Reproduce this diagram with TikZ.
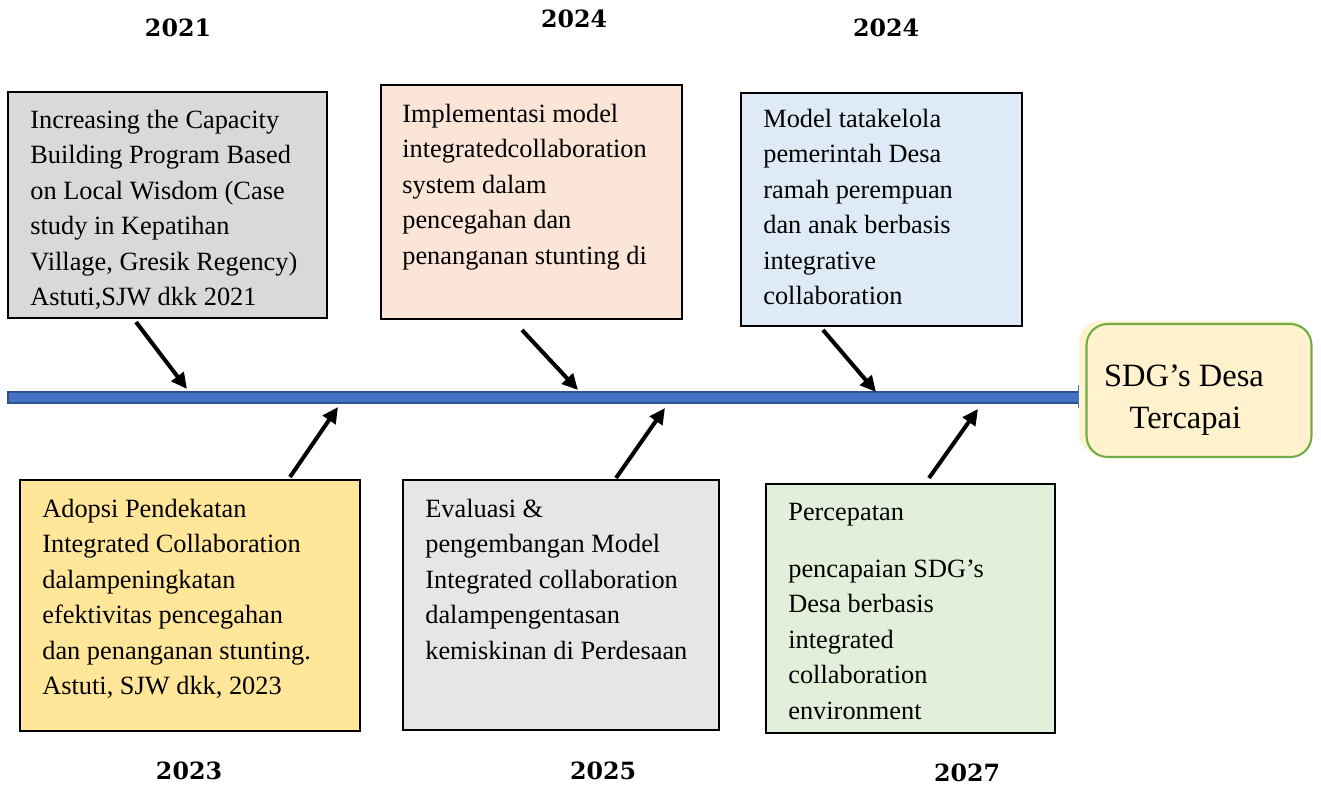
\documentclass[tikz,border=0pt]{standalone}
\usepackage{fontspec}
\setmainfont{Liberation Serif}
\newfontfamily\yearfont{DejaVu Serif}
\usetikzlibrary{arrows.meta}
\definecolor{cgray}{HTML}{D9D9D9}
\definecolor{cpeach}{HTML}{FBE5D6}
\definecolor{cblue}{HTML}{DEEBF7}
\definecolor{cyellow}{HTML}{FFE699}
\definecolor{clgray}{HTML}{E7E6E6}
\definecolor{cgreen}{HTML}{E2EFDA}
\definecolor{sdgfill}{HTML}{FFF2CC}
\definecolor{sdgline}{HTML}{70AD47}
\definecolor{barfill}{HTML}{4472C4}
\definecolor{barline}{HTML}{2F528F}
\begin{document}
\begin{tikzpicture}[x=0.02cm,y=-0.02cm,
  box/.style={draw=black,line width=1.2pt,inner sep=0pt},
  txt/.style={anchor=base west,align=left,inner sep=0pt,font=\fontsize{15}{20.2}\selectfont},
  yr/.style={font=\yearfont\bfseries\fontsize{13.5}{16}\selectfont,inner sep=0pt},
  conn/.style={line width=2.3pt,-{Triangle[length=9pt,width=8.5pt]}}]
\useasboundingbox (0,0) rectangle (1321,789);
% timeline
\path[fill=barfill,draw=barline,line width=0.8pt] (8,392) rectangle (1080,403);
\draw[barfill,line width=1pt] (1079,385) -- (1079,408);
% SDG box
\fill[sdgfill,rounded corners=12pt] (1079,321) rectangle (1309,454);
\node[draw=sdgline,fill=sdgfill,line width=1.2pt,rounded corners=12pt,
  minimum width=4.5cm,minimum height=2.66cm,inner sep=0pt] (sdg) at (1199,390.5) {};
\node[align=center,inner sep=0pt,font=\fontsize{18.5}{23.8}\selectfont,anchor=base] (sdgt) at (1184,428) {SDG’s Desa\\\hspace*{1.5pt}Tercapai};
% boxes
\node[box,fill=cgray,minimum width=6.38cm,minimum height=4.52cm] (b1) at (167.5,205) {};
\node[box,fill=cpeach,minimum width=6.02cm,minimum height=4.68cm] (b2) at (531.5,202) {};
\node[box,fill=cblue,minimum width=5.62cm,minimum height=4.66cm] (b3) at (881.5,209.5) {};
\node[box,fill=cyellow,minimum width=6.8cm,minimum height=5.02cm] (b4) at (190,605.5) {};
\node[box,fill=clgray,minimum width=6.32cm,minimum height=5.0cm] (b5) at (561,605) {};
\node[box,fill=cgreen,minimum width=5.78cm,minimum height=4.98cm] (b6) at (910.5,608.5) {};
% texts (anchored at the baseline of the last line)
\node[txt] (t1) at (30,305.5) {Increasing the Capacity\\Building Program Based\\on Local Wisdom (Case\\study in Kepatihan\\Village, Gresik Regency)\\Astuti,SJW dkk 2021};
\node[txt] (t2) at (402,264) {Implementasi model\\integratedcollaboration\\system dalam\\pencegahan dan\\penanganan stunting di};
\node[txt] (t3) at (763,304.5) {Model tatakelola\\pemerintah Desa\\ramah perempuan\\dan anak berbasis\\integrative\\collaboration};
\node[txt] (t4) at (42,694.5) {Adopsi Pendekatan\\Integrated Collaboration\\dalampeningkatan\\efektivitas pencegahan\\dan penanganan stunting.\\Astuti, SJW dkk, 2023};
\node[txt] (t5) at (425,659) {Evaluasi \&\\pengembangan Model\\Integrated collaboration\\dalampengentasan\\kemiskinan di Perdesaan};
\node[txt] (t6a) at (788,520) {Percepatan};
\node[txt] (t6) at (788,719) {pencapaian SDG’s\\Desa berbasis\\integrated\\collaboration\\environment};
% years
\node[yr] (y21) at (178,28) {2021};
\node[yr] (y24a) at (574,19) {2024};
\node[yr] (y24b) at (886,28) {2024};
\node[yr] (y23) at (189,771) {2023};
\node[yr] (y25) at (603,771) {2025};
\node[yr] (y27) at (967,773) {2027};
% arrow coordinates
\coordinate (a1s) at (136,322); \coordinate (a1e) at (187,389);
\coordinate (a2s) at (290,477); \coordinate (a2e) at (338,407);
\coordinate (a3s) at (522,330); \coordinate (a3e) at (578,390);
\coordinate (a4s) at (616,478); \coordinate (a4e) at (665,408);
\coordinate (a5s) at (823,330); \coordinate (a5e) at (876,392);
\coordinate (a6s) at (929,478); \coordinate (a6e) at (978,409);
\draw[conn] (a1s) -- (a1e);
\draw[conn] (a2s) -- (a2e);
\draw[conn] (a3s) -- (a3e);
\draw[conn] (a4s) -- (a4e);
\draw[conn] (a5s) -- (a5e);
\draw[conn] (a6s) -- (a6e);
\end{tikzpicture}
\end{document}
